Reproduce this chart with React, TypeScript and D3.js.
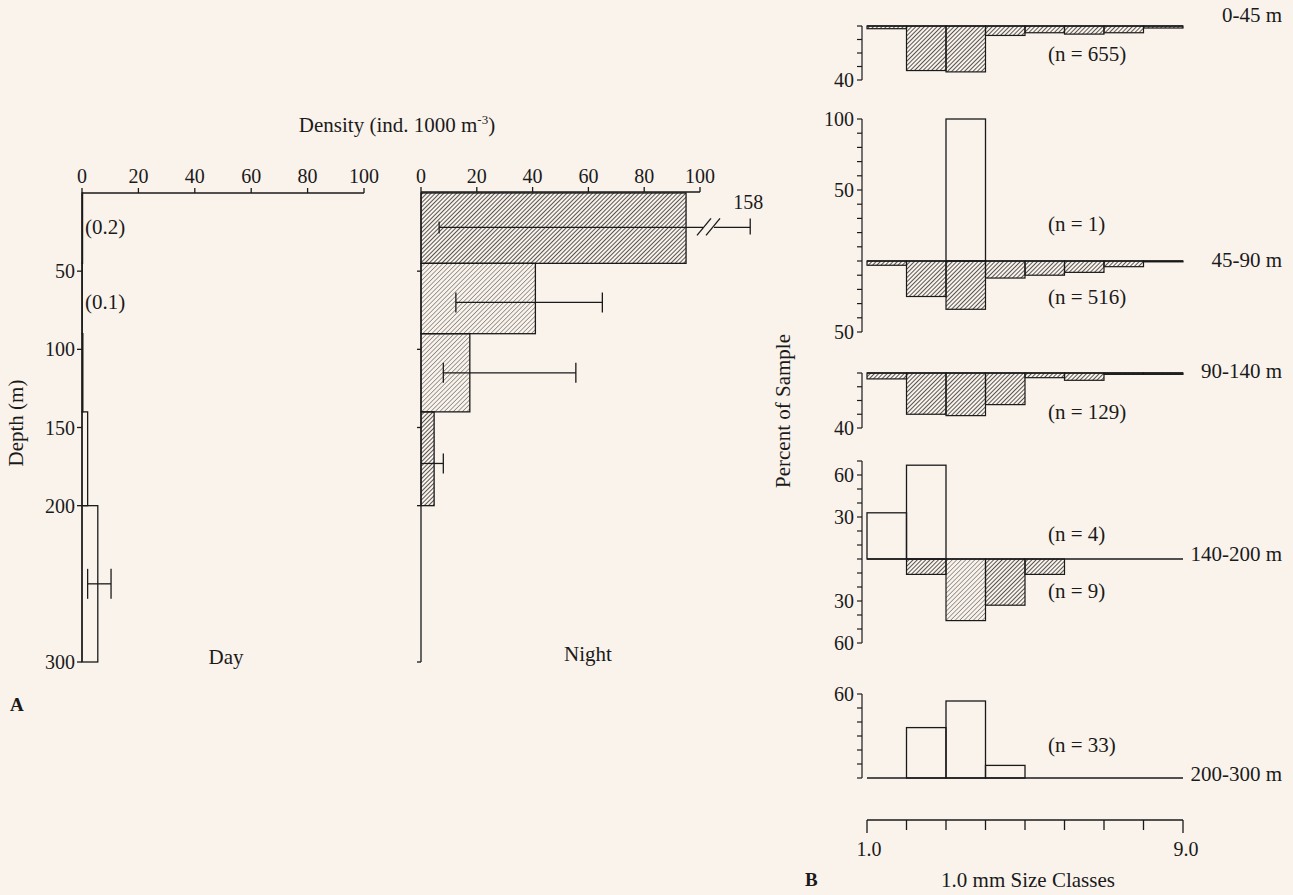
import React from "react";
import * as d3 from "d3";

// ---- panel A: density by depth layer ----
const depthTop = [0, 45, 90, 140, 200];
const depthBottom = [45, 90, 140, 200, 300];
const depthTicks = [50, 100, 150, 200, 300];
const densityTicks = [0, 20, 40, 60, 80, 100];

const dayDensity = [0.2, 0.1, 0.3, 2, 5.6];
const dayNotes = ["(0.2)", "(0.1)", null, null, null];
const dayNoteDepth = [22, 70, null, null, null];
const dayErrDepth = [null, null, null, null, 250];
const dayErrLow = [null, null, null, null, 2];
const dayErrHigh = [null, null, null, null, 10.3];

const nightDensity = [95, 41, 17.5, 4.7, 0];
const nightErrDepth = [22, 70, 115, 173, null];
const nightErrLow = [6.5, 12.5, 8, 0, null];
const nightErrHigh = [158, 65, 55.5, 8, null];

// ---- panel B: size class distribution (%), day up / night down ----
const sizeClassStart = [1, 2, 3, 4, 5, 6, 7, 8];
const sizeTicks = [1, 2, 3, 4, 5, 6, 7, 8, 9];
const layerLabels = ["0-45 m", "45-90 m", "90-140 m", "140-200 m", "200-300 m"];
const dayN = [null, 1, null, 4, 33];
const nightN = [655, 516, 129, 9, null];

const day0_45 = [];
const night0_45 = [2, 33, 34, 7, 5, 6, 5, 1.5];
const day45_90 = [0, 0, 100, 0, 0, 0, 0, 0];
const night45_90 = [3, 25, 34, 12, 10, 8, 4, 0.6];
const day90_140 = [];
const night90_140 = [4.3, 30, 31, 23, 3.4, 5.3, 1, 1];
const day140_200 = [33, 67, 0, 0, 0, 0, 0, 0];
const night140_200 = [0, 11, 44, 33, 11, 0, 0, 0];
const day200_300 = [0, 36, 55, 9, 0, 0, 0, 0];
const night200_300 = [];

const dayPct = [day0_45, day45_90, day90_140, day140_200, day200_300];
const nightPct = [night0_45, night45_90, night90_140, night140_200, night200_300];
const axisUp = [0, 100, 0, 70, 60];
const axisDown = [40, 50, 40, 60, 0];
const labelsUp = [[], [100, 50], [], [60, 30], [60]];
const labelsDown = [[40], [50], [40], [30, 60], []];

const FONT = '"Liberation Serif", "Times New Roman", serif';
const INK = "#1a1a1a";
const FS = 21;   // label font size
const TS = 20;   // tick font size

export default function App() {
  const W = 1293, H = 895;

  const yDepth = d3.scaleLinear().domain([0, 300]).range([193, 662]);
  const xDay = d3.scaleLinear().domain([0, 100]).range([82, 364]);
  const xNight = d3.scaleLinear().domain([0, 100]).range([421, 700]);
  const nightAxisY = 192;

  // panel B layout
  const xSize = d3.scaleLinear().domain([1, 9]).range([867, 1183]);
  const baselines = [26, 261, 373, 559, 778];
  const pxPerPct = [1.35, 1.42, 1.375, 1.4, 1.4];
  const nDayY = [null, 231, null, 541, 752];
  const nNightY = [61, 304, 419, 598, null];
  const layerLabelY = [22, 267, 378, 561, 781];
  const axisXB = 862;

  const lightNight = new Set([1, 2]);

  function bracket(x1: number, x2: number, y: number, half: number, leftCap: boolean) {
    return (
      <g stroke={INK} strokeWidth={1.3}>
        <line x1={x1} x2={x2} y1={y} y2={y} />
        {leftCap && <line x1={x1} x2={x1} y1={y - half} y2={y + half} />}
        <line x1={x2} x2={x2} y1={y - half} y2={y + half} />
      </g>
    );
  }

  return (
    <svg width={W} height={H} style={{ position: "absolute", left: 0, top: 0, display: "block" }}
      fontFamily={FONT} fill={INK}>
      <defs>
        <pattern id="hatchDark" patternUnits="userSpaceOnUse" width={3} height={3} patternTransform="rotate(45)">
          <line x1={0} y1={0} x2={0} y2={3} stroke="#111" strokeWidth={1.4} />
        </pattern>
        <pattern id="hatchLight" patternUnits="userSpaceOnUse" width={3.2} height={3.2} patternTransform="rotate(45)">
          <line x1={0} y1={0} x2={0} y2={3.2} stroke="#444" strokeWidth={1} />
        </pattern>
      </defs>
      <rect x={0} y={0} width={W} height={H} fill="#faf3ec" />

      {/* ----- Panel A ----- */}
      <text x={397} y={132} fontSize={FS} textAnchor="middle">
        Density (ind. 1000 m<tspan dy={-8} fontSize={13}>-3</tspan><tspan dy={8}>)</tspan>
      </text>
      <text transform="translate(23,423) rotate(-90)" fontSize={FS} textAnchor="middle">Depth (m)</text>

      {/* Day axes */}
      <g stroke={INK} strokeWidth={1.3}>
        <line x1={xDay(0)} x2={xDay(100)} y1={yDepth(0)} y2={yDepth(0)} />
        <line x1={xDay(0)} x2={xDay(0)} y1={yDepth(0)} y2={yDepth(300)} />
        {densityTicks.map(t => (
          <line key={t} x1={xDay(t)} x2={xDay(t)} y1={yDepth(0)} y2={yDepth(0) - 5} />
        ))}
        {depthTicks.map(t => (
          <line key={t} x1={xDay(0) - 5} x2={xDay(0)} y1={yDepth(t)} y2={yDepth(t)} />
        ))}
      </g>
      {densityTicks.map(t => (
        <text key={t} x={xDay(t)} y={183} fontSize={TS} textAnchor="middle">{t}</text>
      ))}
      {depthTicks.map(t => (
        <text key={t} x={xDay(0) - 7} y={yDepth(t) + 7} fontSize={TS} textAnchor="end">{t}</text>
      ))}
      {dayDensity.map((v, i) => (
        <rect key={i} x={xDay(0)} y={yDepth(depthTop[i])} width={xDay(v) - xDay(0)}
          height={yDepth(depthBottom[i]) - yDepth(depthTop[i])} fill="none" stroke={INK} strokeWidth={1.3} />
      ))}
      {dayNotes.map((n, i) => n && (
        <text key={i} x={xDay(0) + 3} y={yDepth(dayNoteDepth[i] as number) + 7} fontSize={FS}>{n}</text>
      ))}
      {dayErrDepth.map((d, i) => d != null && (
        <g key={i}>{bracket(xDay(dayErrLow[i] as number), xDay(dayErrHigh[i] as number), yDepth(d), 15, true)}</g>
      ))}
      <text x={226} y={664} fontSize={FS} textAnchor="middle">Day</text>

      {/* Night axes */}
      {nightDensity.map((v, i) => v > 0 && (
        <rect key={i} x={xNight(0)} y={yDepth(depthTop[i])} width={xNight(v) - xNight(0)}
          height={yDepth(depthBottom[i]) - yDepth(depthTop[i])}
          fill={lightNight.has(i) ? "url(#hatchLight)" : "url(#hatchDark)"} stroke={INK} strokeWidth={1.3} />
      ))}
      <g stroke={INK} strokeWidth={1.3}>
        <line x1={xNight(0)} x2={xNight(100)} y1={nightAxisY} y2={nightAxisY} />
        <line x1={xNight(0)} x2={xNight(0)} y1={nightAxisY} y2={yDepth(300)} />
        {densityTicks.map(t => (
          <line key={t} x1={xNight(t)} x2={xNight(t)} y1={nightAxisY} y2={nightAxisY - 5} />
        ))}
        {depthTicks.map(t => (
          <line key={t} x1={xNight(0) - 4} x2={xNight(0)} y1={yDepth(t)} y2={yDepth(t)} />
        ))}
      </g>
      {densityTicks.map(t => (
        <text key={t} x={xNight(t)} y={183} fontSize={TS} textAnchor="middle">{t}</text>
      ))}
      {nightErrDepth.map((d, i) => {
        if (d == null) return null;
        const lo = nightErrLow[i] as number;
        const hi = nightErrHigh[i] as number;
        const y = yDepth(d);
        if (hi <= 100) {
          return <g key={i}>{bracket(xNight(lo), xNight(hi), y, 10, lo > 0)}</g>;
        }
        // broken axis: value beyond 100 is drawn past a break
        const xb = xNight(100);
        const xCap = xNight(118);
        return (
          <g key={i} stroke={INK} strokeWidth={1.3}>
            <line x1={xNight(lo)} x2={xb + 3} y1={y} y2={y} />
            <line x1={xNight(lo)} x2={xNight(lo)} y1={y - 6} y2={y + 6} />
            <line x1={xb - 3} y1={y + 8} x2={xb + 11} y2={y - 9} />
            <line x1={xb + 6} y1={y + 8} x2={xb + 20} y2={y - 9} />
            <line x1={xb + 14} x2={xCap} y1={y} y2={y} />
            <line x1={xCap} x2={xCap} y1={y - 9} y2={y + 7} />
            <text x={xCap - 2} y={y - 18} fontSize={TS} textAnchor="middle" stroke="none" fill={INK}>{hi}</text>
          </g>
        );
      })}
      <text x={588} y={661} fontSize={FS} textAnchor="middle">Night</text>
      <text x={10} y={711} fontSize={19} fontWeight="bold">A</text>

      {/* ----- Panel B ----- */}
      <text transform="translate(790,411) rotate(-90)" fontSize={FS} textAnchor="middle">Percent of Sample</text>
      {layerLabels.map((lab, p) => {
        const b = baselines[p];
        const k = pxPerPct[p];
        const y = d3.scaleLinear().domain([-axisDown[p], axisUp[p]]).range([b + axisDown[p] * k, b - axisUp[p] * k]);
        const tickVals = d3.range(-axisDown[p], axisUp[p] + 1, 10);
        return (
          <g key={p}>
            {dayPct[p].map((v, i) => v > 0 && (
              <rect key={"d" + i} x={xSize(sizeClassStart[i])} y={y(v)} width={xSize(sizeClassStart[i] + 1) - xSize(sizeClassStart[i])}
                height={y(0) - y(v)} fill="none" stroke={INK} strokeWidth={1.3} />
            ))}
            {nightPct[p].map((v, i) => v > 0 && (
              <rect key={"n" + i} x={xSize(sizeClassStart[i])} y={y(0)} width={xSize(sizeClassStart[i] + 1) - xSize(sizeClassStart[i])}
                height={y(-v) - y(0)}
                fill={p === 3 && i === 2 ? "url(#hatchLight)" : "url(#hatchDark)"} stroke={INK} strokeWidth={1.2} />
            ))}
            <line x1={xSize(1)} x2={xSize(9)} y1={y(0)} y2={y(0)} stroke={INK} strokeWidth={1.3} />
            <g stroke={INK} strokeWidth={1.2}>
              <line x1={axisXB} x2={axisXB} y1={y(axisUp[p])} y2={y(-axisDown[p])} />
              {tickVals.map(t => (
                <line key={t} x1={axisXB - 5} x2={axisXB} y1={y(t)} y2={y(t)} />
              ))}
            </g>
            {labelsUp[p].map(t => (
              <text key={"u" + t} x={axisXB - 8} y={y(t) + 7} fontSize={TS} textAnchor="end">{t}</text>
            ))}
            {labelsDown[p].map(t => (
              <text key={"l" + t} x={axisXB - 8} y={y(-t) + 7} fontSize={TS} textAnchor="end">{t}</text>
            ))}
            <text x={1282} y={layerLabelY[p]} fontSize={FS} textAnchor="end">{lab}</text>
            {dayN[p] != null && (
              <text x={1048} y={nDayY[p] as number} fontSize={FS}>{"(n = " + dayN[p] + ")"}</text>
            )}
            {nightN[p] != null && (
              <text x={1048} y={nNightY[p] as number} fontSize={FS}>{"(n = " + nightN[p] + ")"}</text>
            )}
          </g>
        );
      })}

      {/* size class axis */}
      <g stroke={INK} strokeWidth={1.3}>
        <line x1={xSize(1)} x2={xSize(9)} y1={820} y2={820} />
        {sizeTicks.map(t => (
          <line key={t} x1={xSize(t)} x2={xSize(t)} y1={820} y2={t === 1 || t === 9 ? 833 : 830} />
        ))}
      </g>
      <text x={xSize(1) + 2} y={856} fontSize={TS} textAnchor="middle">1.0</text>
      <text x={xSize(9) + 3} y={856} fontSize={TS} textAnchor="middle">9.0</text>
      <text x={1028} y={887} fontSize={FS} textAnchor="middle">1.0 mm Size Classes</text>
      <text x={805} y={886} fontSize={19} fontWeight="bold">B</text>
    </svg>
  );
}
